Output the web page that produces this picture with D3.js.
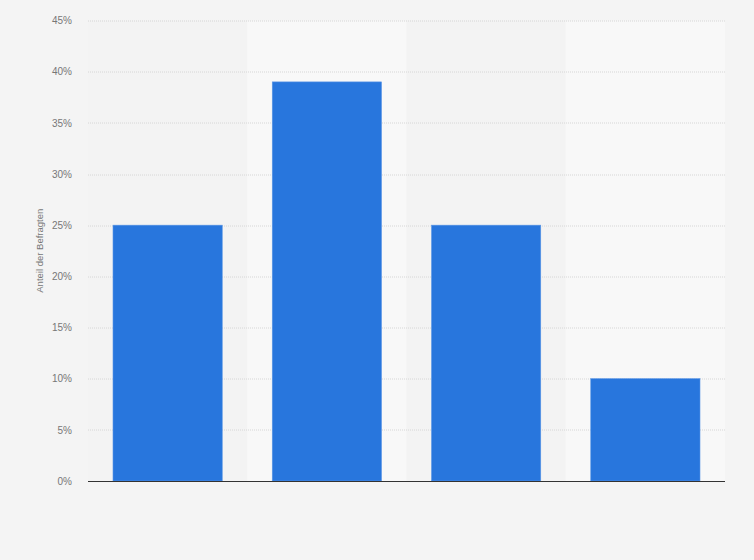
<!DOCTYPE html>
<html>
<head>
<meta charset="utf-8">
<script src="https://cdn.jsdelivr.net/npm/d3@7"></script>
<style>
  html, body { margin: 0; padding: 0; background: #f4f4f4; }
  svg { display: block; font-family: "Liberation Sans", Arial, sans-serif; }
</style>
</head>
<body>
<svg id="chart" width="754" height="560"></svg>
<script>
// Werte
const categories = ['A', 'B', 'C', 'D'];
const shares = [25, 39, 25, 10];
const yTicks = [0, 5, 10, 15, 20, 25, 30, 35, 40, 45];
const yTitle = 'Anteil der Befragten';

const svg = d3.select('#chart');
const margin = { top: 20.5, right: 29, bottom: 79, left: 88 };
const width = +svg.attr('width') - margin.left - margin.right;
const height = +svg.attr('height') - margin.top - margin.bottom;

const g = svg.append('g').attr('transform', `translate(${margin.left},${margin.top})`);

const x = d3.scaleBand()
  .domain(categories)
  .range([0, width])
  .paddingInner(0.314)
  .paddingOuter(0.157);

const y = d3.scaleLinear()
  .domain([0, 45])
  .range([height, 0]);

// Spaltenhintergrund (abwechselnd)
g.selectAll('.band')
  .data(categories)
  .enter().append('rect')
  .attr('class', 'band')
  .attr('x', d => x(d) - x.step() * x.paddingInner() / 2)
  .attr('y', 0)
  .attr('width', x.step())
  .attr('height', height)
  .attr('fill', (d, i) => (i % 2 ? '#f8f8f8' : '#f3f3f3'));

// Gitterlinien
g.append('g')
  .selectAll('line')
  .data(yTicks.filter(t => t > 0))
  .enter().append('line')
  .attr('x1', 0)
  .attr('x2', width)
  .attr('y1', d => Math.round(y(d)) + 0.5)
  .attr('y2', d => Math.round(y(d)) + 0.5)
  .attr('stroke', '#d6d6d6')
  .attr('stroke-dasharray', '1,1');

// y-Achse
const yAxis = d3.axisLeft(y)
  .tickValues(yTicks)
  .tickFormat(d => `${d}%`)
  .tickSize(0)
  .tickPadding(16);

g.append('g')
  .call(yAxis)
  .call(s => s.select('.domain').remove())
  .selectAll('text')
  .attr('fill', '#777')
  .attr('font-size', '10px')
  .attr('font-family', '"Liberation Sans", Arial, sans-serif');

svg.append('text')
  .attr('transform', `translate(43,${margin.top + height / 2}) rotate(-90)`)
  .attr('text-anchor', 'middle')
  .attr('fill', '#777')
  .attr('font-size', '9.5px')
  .text(yTitle);

// Balken
g.selectAll('.bar')
  .data(categories)
  .enter().append('rect')
  .attr('class', 'bar')
  .attr('x', d => x(d))
  .attr('width', x.bandwidth())
  .attr('y', (d, i) => y(shares[i]))
  .attr('height', (d, i) => height - y(shares[i]))
  .attr('fill', '#2876dd')
  .attr('stroke', '#5a96e6')
  .attr('stroke-width', 0.6);

// x-Achsenlinie
g.append('line')
  .attr('x1', 0)
  .attr('x2', width)
  .attr('y1', height + 0.5)
  .attr('y2', height + 0.5)
  .attr('stroke', '#333')
  .attr('stroke-width', 1.2);
</script>
</body>
</html>
